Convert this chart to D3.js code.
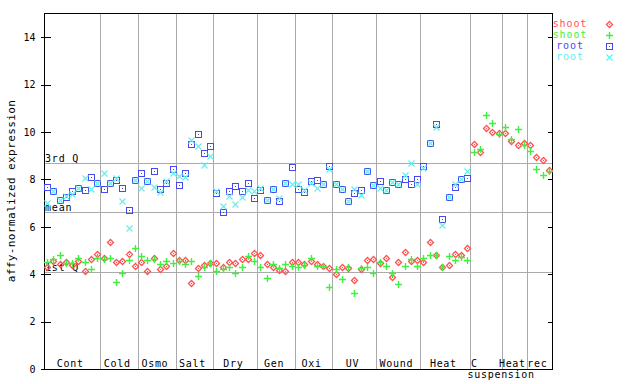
<!DOCTYPE html>
<html>
<head>
<meta charset="UTF-8">
<title>affy expression</title>
<script src="https://cdn.jsdelivr.net/npm/d3@7"></script>
<style>
  body { margin: 0; background: #fff; }
  text { font-family: "DejaVu Sans Mono", monospace; }
</style>
</head>
<body>
<script>
var w = 640, h = 384;

// categories and how many samples each has
var categories = ["Cont", "Cold", "Osmo", "Salt", "Dry", "Gen", "Oxi", "UV", "Wound", "Heat", "C suspension", "Heat", "rec"];
var counts = [9, 6, 6, 6, 7, 6, 6, 7, 7, 8, 5, 4, 4];

var yTicks = [0, 2, 4, 6, 8, 10, 12, 14];
var quartiles = [{label: "3rd Q", v: 8.69}, {label: "mean", v: 6.61}, {label: "1st Q", v: 4.08}];

var shootRed = [
  4.32, 4.56, 4.43, 4.51, 4.39, 4.56, 4.14, 4.64, 4.85,
  4.68, 5.36, 4.51, 4.56, 4.85, 4.35,
  4.51, 4.14, 4.68, 4.22, 4.35, 4.89,
  4.60, 4.60, 3.62, 4.25, 4.38, 4.46,
  4.46, 4.30, 4.52, 4.46, 4.63, 4.63, 4.88,
  4.80, 4.42, 4.30, 4.16, 4.12, 4.52,
  4.52, 4.42, 4.55, 4.42, 4.34, 4.25,
  4.00, 4.30, 4.25, 3.74, 4.20, 4.59, 4.63,
  4.46, 4.67, 3.87, 4.50, 4.92, 4.54, 4.59,
  4.50, 5.35, 4.80, 4.29, 4.38, 4.84, 4.80, 5.09,
  9.48, 9.14, 10.16, 9.99, 9.94,
  9.94, 9.60, 9.44, 9.52,
  9.44, 8.93, 8.80, 8.38
];
var shootGreen = [
  4.51, 4.64, 4.79, 4.47, 4.47, 4.70, 4.51, 4.22, 4.68,
  4.64, 4.68, 3.65, 4.05, 4.60, 5.10,
  4.75, 4.60, 4.64, 4.43, 4.56, 4.47,
  4.56, 4.43, 4.56, 3.91, 4.30, 4.46,
  4.12, 4.21, 4.30, 4.05, 4.30, 4.75, 4.55,
  4.30, 3.83, 4.42, 4.25, 4.42, 4.34,
  4.30, 4.38, 4.67, 4.34, 4.34, 3.45,
  4.21, 3.78, 4.29, 3.19, 4.25, 4.29, 4.04,
  4.50, 4.33, 4.04, 3.57, 4.33, 4.63, 4.33,
  4.67, 4.80, 4.80, 4.29, 4.76, 4.59, 4.71, 4.59,
  9.14, 9.27, 10.70, 10.37, 9.90,
  10.20, 9.69, 10.11, 9.44,
  9.18, 8.43, 8.17, 8.34
];
var rootBlue = [
  7.67, 7.50, 7.12, 7.24, 7.50, 7.62, 7.54, 8.09, 7.84,
  7.58, 7.84, 7.96, 7.62, 6.70, 7.96,
  8.26, 7.92, 8.34, 7.58, 7.84, 8.43,
  7.75, 8.26, 9.48, 9.90, 9.10, 9.40,
  7.41, 6.61, 7.50, 7.71, 7.50, 7.84, 7.20,
  7.54, 7.12, 7.58, 7.08, 7.84, 8.51,
  7.58, 7.46, 7.92, 7.96, 7.79, 8.55,
  7.79, 7.58, 7.10, 7.41, 7.54, 8.34, 7.76,
  7.92, 7.57, 7.89, 7.79, 8.00, 7.79, 8.00,
  8.55, 9.55, 10.32, 6.32, 7.24, 7.69, 8.00, 8.05,
  null, null, null, null, null,
  null, null, null, null,
  null, null, null, null
];
var rootCyan = [
  6.99, 7.50, 7.15, 7.30, 7.37, 7.62, 8.05, 7.58, 7.84,
  8.26, 7.84, 8.05, 7.07, 5.94, 7.96,
  7.62, 7.92, 7.69, 7.45, 7.92, 8.26,
  8.13, 8.09, 9.65, 9.40, 8.59, 8.97,
  7.50, 6.86, 7.29, 6.95, 7.24, 7.54, 7.50,
  7.62, 7.12, 7.58, 7.20, 7.84, 7.79,
  7.79, 7.54, 7.84, 7.62, 7.79, 8.43,
  7.79, 7.58, 7.10, 7.58, 7.33, 8.34, 7.76,
  7.62, 7.57, 7.89, 7.79, 8.17, 8.68, 7.79,
  8.47, 9.55, 10.20, 6.06, 7.24, 7.79, 8.00, 8.34,
  null, null, null, null, null,
  null, null, null, null,
  null, null, null, null
];

var series = [
  {name: "shoot", color: "#ff5050", shape: "diamond", values: shootRed},
  {name: "shoot", color: "#40f040", shape: "plus", values: shootGreen},
  {name: "root", color: "#4848ee", shape: "square", values: rootBlue},
  {name: "root", color: "#60eeee", shape: "cross", values: rootCyan}
];

var plotL = 44, plotR = 552, plotT = 13, plotB = 369;
var n = d3.sum(counts);

var x = d3.scaleBand().domain(d3.range(n)).range([plotL, plotR]).padding(0);
var y = d3.scaleLinear().domain([0, 15]).range([plotB, plotT + 0.5]);

var svg = d3.select("body").append("svg").attr("width", w).attr("height", h);

// category boundaries
var starts = [];
var acc = 0;
counts.forEach(function(c) { starts.push(acc); acc += c; });

var grid = svg.append("g").attr("stroke", "#aaaaaa").attr("shape-rendering", "crispEdges");
starts.slice(1).forEach(function(s) {
  var px = Math.round(x(s)) + 0.5;
  grid.append("line").attr("x1", px).attr("x2", px).attr("y1", plotT).attr("y2", plotB);
});
quartiles.forEach(function(q) {
  var py = Math.round(y(q.v)) + 0.5;
  grid.append("line").attr("x1", plotL).attr("x2", plotR).attr("y1", py).attr("y2", py);
});

// quartile labels
svg.selectAll(".qlab").data(quartiles).enter().append("text")
  .attr("x", plotL + 1)
  .attr("y", function(d) { return Math.round(y(d.v)) - 1; })
  .attr("font-size", "10px").attr("letter-spacing", "0.8px")
  .attr("fill", "#000")
  .text(function(d) { return d.label; });

// category labels
categories.forEach(function(c, i) {
  var x0 = x(starts[i]);
  var x1 = x(starts[i]) + counts[i] * x.bandwidth();
  var parts = c.split(" ");
  var t = svg.append("text")
    .attr("font-size", "10px").attr("letter-spacing", "0.7px")
    .attr("text-anchor", "middle")
    .attr("x", (x0 + x1) / 2 - 2)
    .attr("y", plotB - 2)
    .text(parts[0]);
  if (parts.length > 1) {
    svg.append("text")
      .attr("font-size", "10px").attr("letter-spacing", "0.7px")
      .attr("text-anchor", "middle")
      .attr("x", (x0 + x1) / 2 + 15)
      .attr("y", plotB + 9)
      .text(parts[1]);
    t.attr("x", x0 + 4);
  }
});

// frame
var frame = svg.append("g").attr("stroke", "#000").attr("shape-rendering", "crispEdges").attr("fill", "none");
frame.append("rect").attr("x", plotL + 0.5).attr("y", plotT + 0.5)
  .attr("width", plotR - plotL).attr("height", plotB - plotT);

// y axis
var yAxis = svg.append("g")
  .attr("transform", "translate(" + (plotL + 0.5) + ",0)")
  .call(d3.axisLeft(y).tickValues(yTicks).tickSizeInner(4).tickSizeOuter(0).tickPadding(5));
yAxis.select(".domain").remove();
yAxis.selectAll(".tick line").attr("x2", 6).attr("x1", -4).attr("shape-rendering", "crispEdges");
yAxis.selectAll(".tick text").attr("font-family", "DejaVu Sans Mono").attr("font-size", "10px");

var yAxisR = svg.append("g")
  .attr("transform", "translate(" + (plotR + 0.5) + ",0)")
  .call(d3.axisLeft(y).tickValues(yTicks).tickSizeInner(5).tickSizeOuter(0).tickFormat(""));
yAxisR.select(".domain").remove();
yAxisR.selectAll(".tick line").attr("shape-rendering", "crispEdges");

svg.append("text")
  .attr("transform", "translate(15,191) rotate(-90)")
  .attr("text-anchor", "middle")
  .attr("font-size", "11px").attr("letter-spacing", "0.4px")
  .text("affy-normalized expression");

// markers
function drawMarker(g, shape, color) {
  if (shape === "diamond") {
    g.append("path").attr("d", "M0,-3L3,0L0,3L-3,0Z").attr("fill", "none")
      .attr("stroke", color).attr("stroke-width", 1.3);
    g.append("rect").attr("x", -0.5).attr("y", -0.5).attr("width", 1).attr("height", 1).attr("fill", color);
  } else if (shape === "plus") {
    g.append("path").attr("d", "M-3.5,0H3.5M0,-3.5V3.5").attr("stroke", color).attr("stroke-width", 1.4);
  } else if (shape === "square") {
    g.append("rect").attr("x", -3).attr("y", -3).attr("width", 6).attr("height", 6)
      .attr("fill", "none").attr("stroke", color).attr("shape-rendering", "crispEdges");
    g.append("rect").attr("x", -0.5).attr("y", -0.5).attr("width", 1).attr("height", 1).attr("fill", color);
  } else {
    g.append("path").attr("d", "M-3,-3L3,3M-3,3L3,-3").attr("stroke", color).attr("stroke-width", 1.1);
  }
}

series.forEach(function(s) {
  var g = svg.append("g");
  s.values.forEach(function(v, i) {
    if (v === null) return;
    var cx = Math.round(x(i) + x.bandwidth() / 2) + 0.5;
    var cy = Math.round(y(v)) + 0.5;
    var m = g.append("g").attr("transform", "translate(" + cx + "," + cy + ")");
    drawMarker(m, s.shape, s.color);
  });
});

// legend
series.forEach(function(s, i) {
  var ly = 24 + i * 11;
  svg.append("text")
    .attr("x", 570).attr("y", ly + 3)
    .attr("text-anchor", "middle")
    .attr("font-size", "10px").attr("letter-spacing", "0.9px")
    .attr("fill", s.color)
    .text(s.name);
  var m = svg.append("g").attr("transform", "translate(609.5," + (ly + 0.5) + ")");
  drawMarker(m, s.shape, s.color);
});
</script>
</body>
</html>
